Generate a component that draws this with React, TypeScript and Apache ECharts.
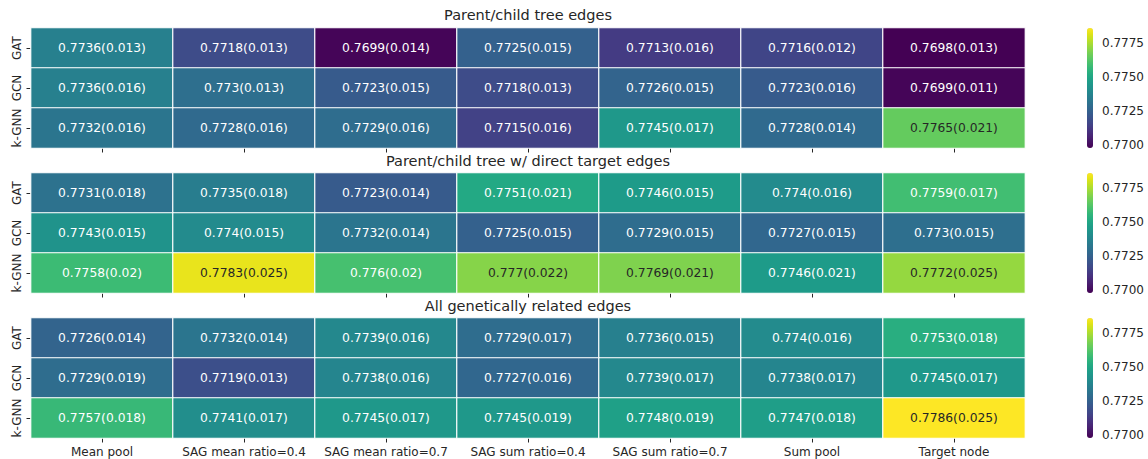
import React, { useEffect, useRef } from "react";
import * as echarts from "echarts";

const COLUMNS = [
  "Mean pool",
  "SAG mean ratio=0.4",
  "SAG mean ratio=0.7",
  "SAG sum ratio=0.4",
  "SAG sum ratio=0.7",
  "Sum pool",
  "Target node",
];
const MODELS = ["GAT", "GCN", "k-GNN"];
const TITLES = [
  "Parent/child tree edges",
  "Parent/child tree w/ direct target edges",
  "All genetically related edges",
];

const P1_MEAN = [
  [0.7736, 0.7718, 0.7699, 0.7725, 0.7713, 0.7716, 0.7698],
  [0.7736, 0.773, 0.7723, 0.7718, 0.7726, 0.7723, 0.7699],
  [0.7732, 0.7728, 0.7729, 0.7715, 0.7745, 0.7728, 0.7765],
];
const P1_STD = [
  [0.013, 0.013, 0.014, 0.015, 0.016, 0.012, 0.013],
  [0.016, 0.013, 0.015, 0.013, 0.015, 0.016, 0.011],
  [0.016, 0.016, 0.016, 0.016, 0.017, 0.014, 0.021],
];
const P2_MEAN = [
  [0.7731, 0.7735, 0.7723, 0.7751, 0.7746, 0.774, 0.7759],
  [0.7743, 0.774, 0.7732, 0.7725, 0.7729, 0.7727, 0.773],
  [0.7758, 0.7783, 0.776, 0.777, 0.7769, 0.7746, 0.7772],
];
const P2_STD = [
  [0.018, 0.018, 0.014, 0.021, 0.015, 0.016, 0.017],
  [0.015, 0.015, 0.014, 0.015, 0.015, 0.015, 0.015],
  [0.02, 0.025, 0.02, 0.022, 0.021, 0.021, 0.025],
];
const P3_MEAN = [
  [0.7726, 0.7732, 0.7739, 0.7729, 0.7736, 0.774, 0.7753],
  [0.7729, 0.7719, 0.7738, 0.7727, 0.7739, 0.7738, 0.7745],
  [0.7757, 0.7741, 0.7745, 0.7745, 0.7748, 0.7747, 0.7786],
];
const P3_STD = [
  [0.014, 0.014, 0.016, 0.017, 0.015, 0.016, 0.018],
  [0.019, 0.013, 0.016, 0.016, 0.017, 0.017, 0.017],
  [0.018, 0.017, 0.017, 0.019, 0.019, 0.018, 0.025],
];

const PANELS = [
  { mean: P1_MEAN, std: P1_STD },
  { mean: P2_MEAN, std: P2_STD },
  { mean: P3_MEAN, std: P3_STD },
];

const V_MIN = 0.7698;
const V_MAX = 0.7786;
const CBAR_TICKS = [0.77, 0.7725, 0.775, 0.7775];
const DARK_TEXT_ABOVE = 0.7762;

const VIRIDIS = [
  "#440154", "#471365", "#482475", "#463480", "#414487", "#3b528b",
  "#355f8d", "#2f6c8e", "#2a788e", "#25848e", "#21918c", "#1e9c89",
  "#22a884", "#2fb47c", "#44bf70", "#5ec962", "#7ad151", "#9bd93c",
  "#bddf26", "#dfe318", "#fde725",
];

const FONT = "DejaVu Sans";
const INK = "#262626";

export default function App() {
  const ref = useRef<HTMLDivElement>(null);

  useEffect(() => {
    if (!ref.current) return;
    document.body.style.margin = "0";
    const chart = echarts.init(ref.current, null, { renderer: "svg" });

    const gridLeft = 31;
    const gridWidth = 994;
    const gridHeight = 120;
    const tops = [28, 173, 318];
    const titleY = [15, 160.5, 306];

    const grids: any[] = [];
    const xAxes: any[] = [];
    const yAxes: any[] = [];
    const series: any[] = [];
    const visualMaps: any[] = [];
    const graphics: any[] = [];

    PANELS.forEach((panel, pi) => {
      grids.push({
        left: gridLeft,
        top: tops[pi],
        width: gridWidth,
        height: gridHeight,
        outerBoundsMode: "none",
        containLabel: false,
      });
      xAxes.push({
        gridIndex: pi,
        type: "category",
        data: COLUMNS,
        position: "bottom",
        axisLine: { show: false },
        axisTick: {
          show: true,
          alignWithLabel: true,
          interval: 0,
          length: 4.5,
          lineStyle: { color: INK, width: 1 },
        },
        axisLabel: {
          show: pi === 2,
          margin: 8,
          fontSize: 12,
          fontFamily: FONT,
          color: INK,
          interval: 0,
        },
        splitLine: { show: false },
      });
      yAxes.push({
        gridIndex: pi,
        type: "category",
        data: MODELS,
        inverse: true,
        axisLine: { show: false },
        axisTick: {
          show: true,
          alignWithLabel: true,
          interval: 0,
          length: 4.5,
          lineStyle: { color: INK, width: 1 },
        },
        axisLabel: {
          rotate: 90,
          interval: 0,
          hideOverlap: false,
          margin: 8,
          fontSize: 12,
          fontFamily: FONT,
          color: INK,
        },
        splitLine: { show: false },
      });
      const data: any[] = [];
      panel.mean.forEach((row, r) => {
        row.forEach((v, c) => {
          data.push({
            value: [c, r, v],
            label: { color: v > DARK_TEXT_ABOVE ? INK : "#ffffff" },
          });
        });
      });
      series.push({
        type: "heatmap",
        xAxisIndex: pi,
        yAxisIndex: pi,
        data,
        itemStyle: { borderColor: "#ffffff", borderWidth: 1.2 },
        label: {
          show: true,
          fontSize: 12.3,
          fontFamily: FONT,
          formatter: (p: any) => {
            const c = p.value[0];
            const r = p.value[1];
            return `${panel.mean[r][c]}(${panel.std[r][c]})`;
          },
        },
        emphasis: { disabled: true },
      });
      visualMaps.push({
        type: "continuous",
        min: V_MIN,
        max: V_MAX,
        dimension: 2,
        seriesIndex: pi,
        calculable: false,
        left: 1087,
        top: tops[pi],
        itemWidth: 6,
        itemHeight: gridHeight,
        padding: 0,
        inRange: { color: VIRIDIS },
        hoverLink: false,
      });
      graphics.push({
        type: "text",
        x: gridLeft + gridWidth / 2,
        y: titleY[pi],
        style: {
          text: TITLES[pi],
          fill: INK,
          font: `14.5px "${FONT}"`,
          textAlign: "center",
          textVerticalAlign: "middle",
        },
      });
    });

    // colour bar axes
    PANELS.forEach((_, pi) => {
      const gi = grids.length;
      grids.push({
        left: 1087,
        top: tops[pi],
        width: 6,
        height: gridHeight,
        outerBoundsMode: "none",
        containLabel: false,
      });
      xAxes.push({
        gridIndex: gi,
        type: "value",
        show: false,
        min: 0,
        max: 1,
      });
      yAxes.push({
        gridIndex: gi,
        type: "value",
        position: "right",
        min: V_MIN,
        max: V_MAX,
        axisLine: { show: false },
        splitLine: { show: false },
        axisTick: {
          show: true,
          length: 4.5,
          customValues: CBAR_TICKS,
          lineStyle: { color: INK, width: 1 },
        },
        axisLabel: {
          customValues: CBAR_TICKS,
          margin: 9,
          fontSize: 12,
          fontFamily: FONT,
          color: INK,
          formatter: (v: number) => v.toFixed(4),
        },
      });
    });

    chart.setOption({
      animation: false,
      backgroundColor: "#ffffff",
      textStyle: { fontFamily: FONT },
      grid: grids,
      xAxis: xAxes,
      yAxis: yAxes,
      visualMap: visualMaps,
      series,
      graphic: graphics,
    });

    return () => chart.dispose();
  }, []);

  return (
    <div
      ref={ref}
      style={{ position: "fixed", left: 0, top: 0, width: 1148, height: 459 }}
    />
  );
}
